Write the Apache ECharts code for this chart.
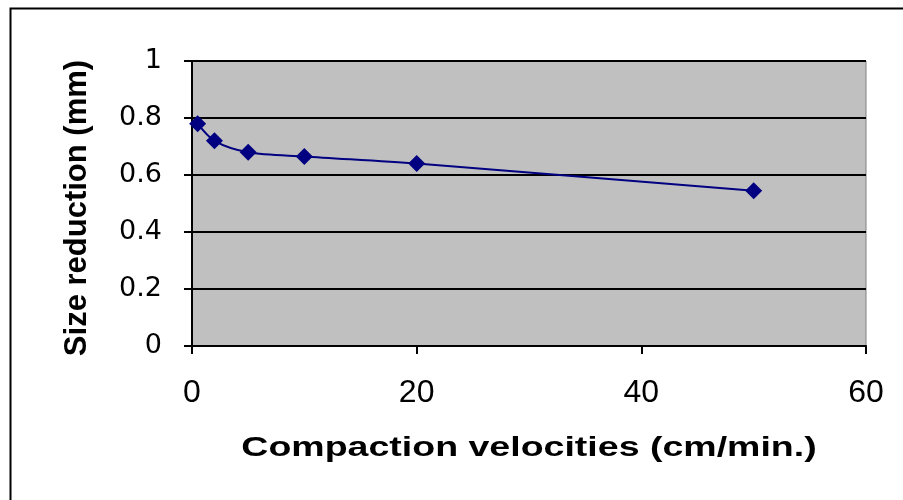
<!DOCTYPE html>
<html><head><meta charset="utf-8">
<script src="https://cdn.jsdelivr.net/npm/echarts@6/dist/echarts.min.js"></script>
<style>html,body{margin:0;padding:0;background:#fff}#c{width:903px;height:500px}</style>
</head><body><div id="c"></div>
<script>
const velocities = [0.5, 2, 5, 10, 20, 50];
const sizeReduction = [0.78, 0.72, 0.68, 0.665, 0.64, 0.545];
const xTitle = 'Compaction velocities (cm/min.)';
const yTitle = 'Size reduction (mm)';

const chart = echarts.init(document.getElementById('c'), null, {renderer:'canvas'});
const font = '"Liberation Sans", Arial, sans-serif';
chart.setOption({
  animation:false,
  graphic:[
    {type:'rect',shape:{x:10.5,y:8.5,width:900,height:500},style:{fill:null,stroke:'#000',lineWidth:2},z:-1},
    {type:'text',x:529,y:448,scaleX:1.34,
      style:{text:xTitle,font:'bold 28px "Liberation Sans", Arial, sans-serif',fill:'#000',align:'center',verticalAlign:'middle'}},
    {type:'text',x:77,y:208,rotation:Math.PI/2,
      style:{text:yTitle,font:'bold 31px "Liberation Sans", Arial, sans-serif',fill:'#000',align:'center',verticalAlign:'middle'}}
  ],
  grid:{left:192,top:61,width:674,height:285,backgroundColor:'#C0C0C0',show:true,borderColor:'#808080',borderWidth:1},
  xAxis:{type:'value',min:0,max:60,interval:20,
    axisLine:{show:true,onZero:false,lineStyle:{color:'#000',width:2}},
    axisTick:{show:true,inside:false,length:8,lineStyle:{color:'#000',width:2}},
    axisLabel:{fontFamily:font,fontSize:32,color:'#000',margin:31},
    splitLine:{show:false}},
  yAxis:{type:'value',min:0,max:1,interval:0.2,
    axisLine:{show:true,lineStyle:{color:'#000',width:2}},
    axisTick:{show:true,inside:false,length:8,lineStyle:{color:'#000',width:2}},
    axisLabel:{fontFamily:'"DejaVu Sans", sans-serif',fontSize:27,color:'#000',margin:30},
    splitLine:{show:true,lineStyle:{color:'#000',width:2}}},
  series:[{type:'line',data:velocities.map((v,i)=>[v,sizeReduction[i]]),
    smooth:0.3,symbol:'diamond',symbolSize:17,
    lineStyle:{color:'#000080',width:2},itemStyle:{color:'#000080'}}]
});
</script></body></html>
